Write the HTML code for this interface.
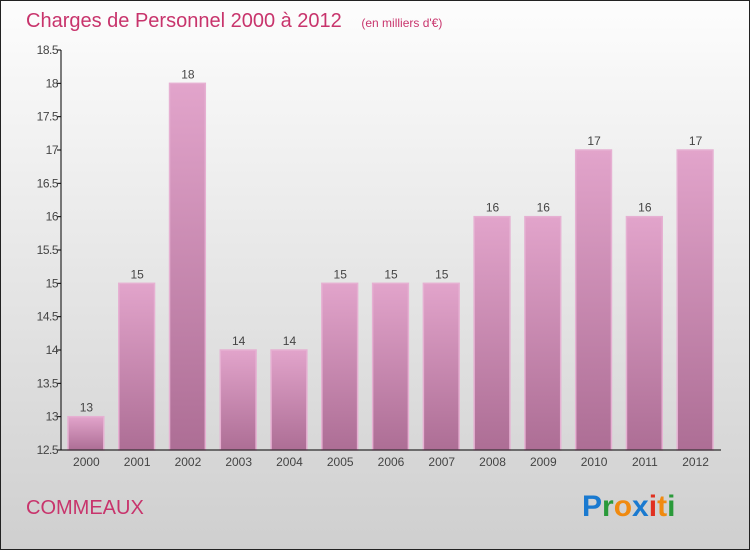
<!DOCTYPE html>
<html><head><meta charset="utf-8"><style>
body{margin:0;width:750px;height:550px;overflow:hidden;font-family:"Liberation Sans",sans-serif}
</style></head><body>
<svg id="chart" width="750" height="550" xmlns="http://www.w3.org/2000/svg">
<defs>
<linearGradient id="bg" x1="0" y1="0" x2="0" y2="1"><stop offset="0" stop-color="#fdfdfd"/><stop offset="1" stop-color="#cfcfcf"/></linearGradient>
<linearGradient id="bar" x1="0" y1="0" x2="0" y2="1"><stop offset="0" stop-color="#e2a4cb"/><stop offset="1" stop-color="#ad6e95"/></linearGradient>
</defs>
<rect x="0.5" y="0.5" width="749" height="549" fill="url(#bg)" stroke="#222"/>
<text x="26" y="27" font-size="20" fill="#c8346c">Charges de Personnel 2000 à 2012 <tspan font-size="12" dx="14">(en milliers d'€)</tspan></text>
<g id="bars"></g>
<g id="axes"></g>
<text x="26" y="514" font-size="20" fill="#c8346c">COMMEAUX</text>
<g font-size="30" font-weight="bold" font-family="Liberation Sans, sans-serif">
<text x="582" y="516"><tspan fill="#1a7ad0">P</tspan><tspan fill="#2a9a3a">r</tspan><tspan fill="#f08a10">o</tspan><tspan fill="#1a7ad0">x</tspan><tspan fill="#e03020">i</tspan><tspan fill="#f08a10">t</tspan><tspan fill="#2a9a3a">i</tspan></text>
</g>
</svg>
<script>
const categories=["2000","2001","2002","2003","2004","2005","2006","2007","2008","2009","2010","2011","2012"];
const values=[13,15,18,14,14,15,15,15,16,16,17,16,17];
const yTicks=[12.5,13,13.5,14,14.5,15,15.5,16,16.5,17,17.5,18,18.5];
const NS="http://www.w3.org/2000/svg";
const x0=61,x1=721,yTop=50,yBot=450,yMin=12.5,yMax=18.5;
const band=(x1-x0)/categories.length;
const y=v=>yBot-(v-yMin)/(yMax-yMin)*(yBot-yTop);
const xb=i=>x0+i*band;
function mk(t,a,p){const e=document.createElementNS(NS,t);for(const k in a)e.setAttribute(k,a[k]);p.appendChild(e);return e;}
const gb=document.getElementById('bars'),ga=document.getElementById('axes');
values.forEach((v,i)=>{
 const r=mk('rect',{x:xb(i)+7,y:y(v),width:band-15,height:yBot-y(v),fill:'url(#bar)',stroke:'#e6b0d2','stroke-width':1.5},gb);
 
 
 const t=mk('text',{x:xb(i)+band/2,y:y(v)-5,'text-anchor':'middle','font-size':12,fill:'#444'},gb);t.textContent=v;
 
 
 const c=mk('text',{x:xb(i)+band/2,y:466,'text-anchor':'middle','font-size':12,fill:'#444'},ga);c.textContent=categories[i];
 
 
});
const ya=mk('line',{x1:x0,y1:yTop,x2:x0,y2:yBot,stroke:'#000'},ga);


const xa=mk('line',{x1:x0,y1:yBot,x2:x1,y2:yBot,stroke:'#000'},ga);


yTicks.forEach(v=>{
 mk('line',{x1:x0-4,y1:y(v),x2:x0,y2:y(v),stroke:'#000'},ga);
 const t=mk('text',{x:x0-3,y:y(v)+4,'text-anchor':'end','font-size':12,fill:'#444','letter-spacing':'-0.5'},ga);t.textContent=v;
 
 
});
</script>
</body></html>
